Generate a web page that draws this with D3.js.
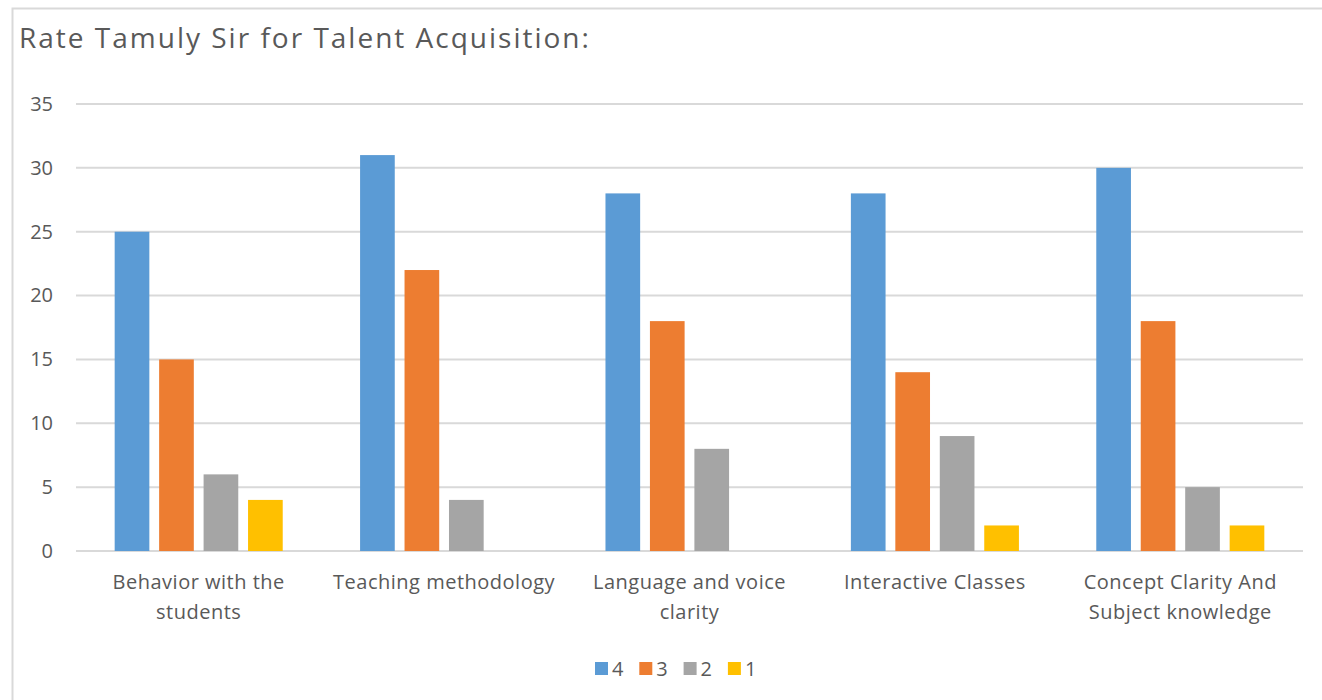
<!DOCTYPE html>
<html>
<head>
<meta charset="utf-8">
<script src="https://cdn.jsdelivr.net/npm/d3@7"></script>
<style>
  body { margin: 0; background: #fff; }
  svg { display: block; font-family: "Open Sans", Lato, sans-serif; }
</style>
</head>
<body>
<div id="chart"></div>
<script>
// chart data
const categories = [
    "Behavior with the students",
    "Teaching methodology",
    "Language and voice clarity",
    "Interactive Classes",
    "Concept Clarity And Subject knowledge"
];
const categoryLines = [
    ["Behavior with the", "students"],
    ["Teaching methodology"],
    ["Language and voice", "clarity"],
    ["Interactive Classes"],
    ["Concept Clarity And", "Subject knowledge"]
];
const seriesNames = ["4", "3", "2", "1"];
const rating4 = [25, 31, 28, 28, 30];
const rating3 = [15, 22, 18, 14, 18];
const rating2 = [6, 4, 8, 9, 5];
const rating1 = [4, 0, 0, 2, 2];
const yTicks = [0, 5, 10, 15, 20, 25, 30, 35];
const colors = ["#5B9BD5", "#ED7D31", "#A5A5A5", "#FFC000"];

function drawChart() {
    const width = 1322, height = 700;
    const margin = {top: 104, right: 19, bottom: 149, left: 76};
    const seriesValues = [rating4, rating3, rating2, rating1];

    const svg = d3.select("#chart")
        .append("svg")
        .attr("width", width)
        .attr("height", height);

    // outer frame of the chart area
    svg.append("rect")
        .attr("x", 12.5)
        .attr("y", 8.5)
        .attr("width", width)
        .attr("height", height)
        .attr("fill", "none")
        .attr("stroke", "#d9d9d9")
        .attr("stroke-width", 2);

    svg.append("text")
        .attr("x", 19)
        .attr("y", 48)
        .attr("font-size", "28px")
        .attr("letter-spacing", "2px")
        .attr("fill", "#595959")
        .text("Rate Tamuly Sir for Talent Acquisition:");

    const x0 = d3.scaleBand()
        .domain(categories)
        .range([margin.left, width - margin.right])
        .padding(0);

    const x1 = d3.scaleBand()
        .domain(seriesNames)
        .range([0, x0.bandwidth()])
        .paddingInner(0.22)
        .paddingOuter(0.87);

    const y = d3.scaleLinear()
        .domain([0, 35])
        .range([height - margin.bottom, margin.top]);

    // gridlines
    svg.append("g")
        .selectAll("line")
        .data(yTicks)
        .join("line")
        .attr("x1", margin.left)
        .attr("x2", width - margin.right)
        .attr("y1", d => y(d))
        .attr("y2", d => y(d))
        .attr("stroke", "#d9d9d9")
        .attr("stroke-width", 2);

    // y labels
    svg.append("g")
        .attr("transform", `translate(${margin.left}, 0)`)
        .call(d3.axisLeft(y).tickValues(yTicks).tickSize(0).tickPadding(23))
        .call(g => g.select(".domain").remove())
        .selectAll("text")
        .attr("font-family", "'Open Sans', Lato, sans-serif")
        .attr("font-size", "20px")
        .attr("fill", "#595959");

    // bars
    const groups = svg.append("g")
        .selectAll("g")
        .data(categories)
        .join("g")
        .attr("transform", d => `translate(${x0(d)}, 0)`);

    groups.selectAll("rect")
        .data((d, i) => seriesNames.map((s, j) => ({s: s, v: seriesValues[j][i], c: colors[j]})))
        .join("rect")
        .attr("x", d => x1(d.s))
        .attr("y", d => y(d.v))
        .attr("width", x1.bandwidth())
        .attr("height", d => y(0) - y(d.v))
        .attr("fill", d => d.c);

    // category labels, wrapped like the original
    const labels = svg.append("g")
        .selectAll("text")
        .data(categories)
        .join("text")
        .attr("x", d => x0(d) + x0.bandwidth() / 2)
        .attr("y", 589)
        .attr("text-anchor", "middle")
        .attr("font-size", "20px")
        .attr("letter-spacing", "0.5px")
        .attr("fill", "#595959");

    labels.selectAll("tspan")
        .data((d, i) => categoryLines[i])
        .join("tspan")
        .attr("x", function() { return this.parentNode.getAttribute("x"); })
        .attr("dy", (d, i) => i === 0 ? 0 : 29.5)
        .text(d => d);

    // legend
    const legend = svg.append("g")
        .attr("transform", "translate(595, 662)");

    const item = legend.selectAll("g")
        .data(seriesNames)
        .join("g")
        .attr("transform", (d, i) => `translate(${i * 44.3}, 0)`);

    item.append("rect")
        .attr("width", 13)
        .attr("height", 13)
        .attr("fill", (d, i) => colors[i]);

    item.append("text")
        .attr("x", 17)
        .attr("y", 13.5)
        .attr("font-size", "20px")
        .attr("fill", "#595959")
        .text(d => d);
}

drawChart();
</script>
</body>
</html>
